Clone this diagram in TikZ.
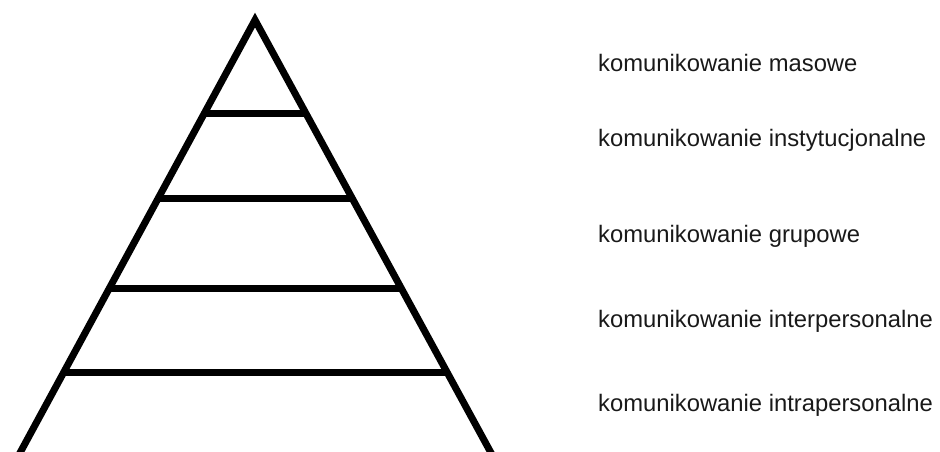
\documentclass[tikz,border=0pt]{standalone}
\usepackage{fontspec}
\setmainfont{Liberation Sans}
\usetikzlibrary{calc}
\begin{document}
\begin{tikzpicture}[x=1pt,y=-1pt,
  edge/.style={line width=7pt,black,line join=miter},
  lvl/.style={line width=7pt,black},
  lab/.style={anchor=base west,inner sep=0pt,font=\fontsize{23.8}{29}\selectfont,text=black!90}]
\useasboundingbox (0,0) rectangle (940,451);
\clip (0,0) rectangle (940,451);
\coordinate (apex) at (255,20);
\coordinate (bl) at (21,451);
\coordinate (br) at (490,451);
\coordinate (blx) at ($(apex)!1.01!(bl)$);
\coordinate (brx) at ($(apex)!1.01!(br)$);
\draw[edge] (blx) -- (apex) -- (brx);
\foreach \t/\n in {0.2158/a,0.4130/b,0.6218/c,0.8190/d}{
  \coordinate (L\n) at ($(apex)!\t!(bl)$);
  \coordinate (R\n) at ($(apex)!\t!(br)$);
  \draw[lvl] (L\n) -- (R\n);
}
\node[lab] (t1) at (598,71) {komunikowanie masowe};
\node[lab] (t2) at (598,146) {komunikowanie instytucjonalne};
\node[lab] (t3) at (598,242) {komunikowanie grupowe};
\node[lab] (t4) at (598,327) {komunikowanie interpersonalne};
\node[lab] (t5) at (598,411) {komunikowanie intrapersonalne};
\end{tikzpicture}
\end{document}
